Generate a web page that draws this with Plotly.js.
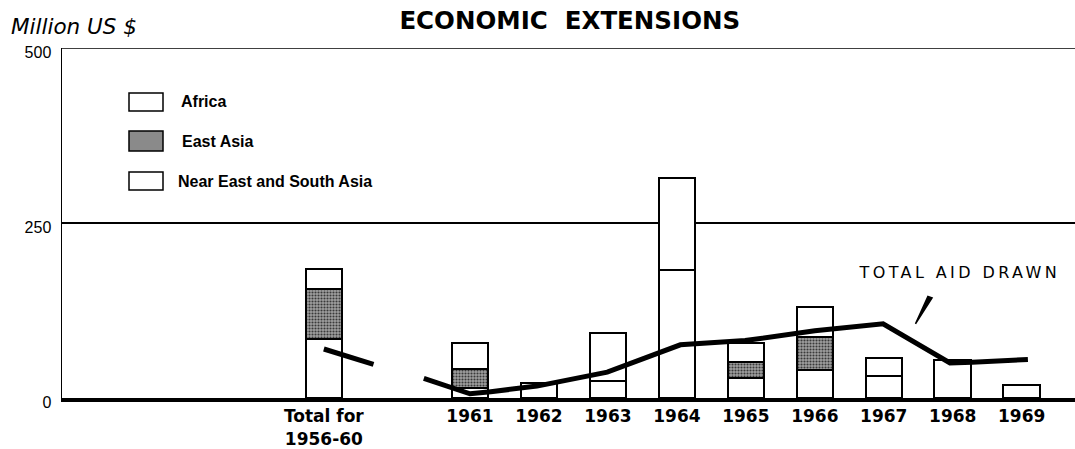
<!DOCTYPE html>
<html>
<head>
<meta charset="utf-8">
<script src="https://cdn.plot.ly/plotly-3.0.1.min.js"></script>
<style>
html,body{margin:0;padding:0;background:#fff;}
#chart{width:1075px;height:449px;}
.annotation[data-index="0"] text{letter-spacing:3.4px;}
</style>
</head>
<body>
<div id="chart"></div>
<script>
// ---- data (million US $) ----
const categories = ["Total for<br>1956-60","1961","1962","1963","1964","1965","1966","1967","1968","1969"];
const barX       = [1958.88, 1961, 1962, 1963, 1964, 1965, 1966, 1967, 1968, 1969];
const nearEastSouthAsia = [84, 14, null, 25, 183, 29, 40, 31, null, null];
const eastAsia          = [72, 27, null, null, null, 23, 47, null, null, null];
const africa            = [28, 37, 22, 68, 131, 26, 43, 26, 55, 18];
// total aid drawn (two drawn pieces, gap between them)
const aidX = [1958.88, 1959.60, null, 1960.33, 1961.0, 1961.3, 1961.97, 1962.99, 1963.61, 1963.9, 1964.05, 1964.99, 1966.0, 1966.99, 1967.96, 1968.28, 1969.09];
const aidY = [70, 48, null, 28, 6, 9, 17, 37, 59, 70, 76, 82, 96, 106, 50, 51, 55];
const yTicks = [0, 250, 500];

const barLine = {color:'#000', width:2};
const traces = [
  {type:'bar', name:'Near East and South Asia', x:barX, y:nearEastSouthAsia, width:0.53,
   marker:{color:'#fff', line:barLine}},
  {type:'bar', name:'East Asia', x:barX, y:eastAsia, width:0.53,
   marker:{color:'#8a8a8a', line:barLine, pattern:{shape:'.', fgcolor:'#3a3a3a', bgcolor:'#a0a0a0', size:3, solidity:0.4}}},
  {type:'bar', name:'Africa', x:barX, y:africa, width:0.53,
   marker:{color:'#fff', line:barLine}},
  {type:'scatter', mode:'lines', name:'Total aid drawn', x:aidX, y:aidY, connectgaps:false,
   line:{color:'#000', width:5}}
];

// hand-drawn legend boxes (paper coords)
const plotL = 62, plotR = 1075, plotT = 48, plotB = 398;
function px2paperX(p){return (p-plotL)/(plotR-plotL);}
function px2paperY(p){return (plotB-p)/(plotB-plotT);}
const legendItems = [
  {label:'Africa', top:93, bot:111, fill:'#fff', tx:179},
  {label:'East Asia', top:131, bot:151, fill:'#8a8a8a', tx:180},
  {label:'Near East and South Asia', top:172, bot:190, fill:'#fff', tx:176}
];
const shapes = legendItems.map(it => ({
  type:'rect', xref:'paper', yref:'paper',
  x0:px2paperX(129), x1:px2paperX(163), y0:px2paperY(it.bot), y1:px2paperY(it.top),
  line:{color:'#000', width:1.5}, fillcolor:it.fill
}));
// top frame line at 500
shapes.push({type:'line', xref:'paper', yref:'y', x0:0, x1:1, y0:500, y1:500,
  line:{color:'#000', width:1.5}});
// pointer from label to line
shapes.push({type:'path', xref:'x', yref:'y',
  path:'M 1967.64 145 L 1967.70 143 L 1967.46 106 Z',
  fillcolor:'#000', line:{color:'#000', width:1.5}});

const annotations = [
  {text:'TOTAL AID DRAWN', x:1968.1, y:179, xref:'x', yref:'y', showarrow:false,
   font:{family:'DejaVu Sans', size:16, color:'#000'}},
  {text:'<i>Million US $</i>', xref:'paper', yref:'paper', x:px2paperX(9), y:px2paperY(27),
   xanchor:'left', yanchor:'middle', showarrow:false,
   font:{family:'DejaVu Sans', size:21.5, weight:500, color:'#000'}}
].concat(legendItems.map(it => ({
  text:'<b>'+it.label+'</b>', xref:'paper', yref:'paper', x:px2paperX(it.tx), y:px2paperY((it.top+it.bot)/2),
  xanchor:'left', yanchor:'middle', showarrow:false,
  font:{family:'Liberation Sans', size:16, color:'#000'}
})));

const layout = {
  width:1075, height:449,
  margin:{l:plotL, r:1075-plotR, t:plotT, b:449-plotB, pad:0},
  paper_bgcolor:'#fff', plot_bgcolor:'#fff',
  barmode:'stack', showlegend:false,
  title:{text:'<b>ECONOMIC  EXTENSIONS</b>', x:0.53, xanchor:'center', y:0.955, yanchor:'middle',
         font:{family:'DejaVu Sans', size:24.5, color:'#000'}},
  xaxis:{range:[1955.083, 1969.773], tickmode:'array', tickvals:barX, ticktext:categories,
         showgrid:false, zeroline:false, showline:true, linecolor:'#000', linewidth:4,
         ticks:'', tickfont:{family:'DejaVu Sans', size:17, weight:'bold', color:'#000'}, fixedrange:true,
         tickangle:0},
  yaxis:{range:[0, 500], tickmode:'array', tickvals:yTicks, ticktext:yTicks.map(String),
         showgrid:true, gridcolor:'#000', gridwidth:1.2, zeroline:false,
         showline:true, linecolor:'#000', linewidth:1.5, ticks:'', ticklabelstandoff:6,
         ticklabelshift:4,
         tickfont:{family:'Liberation Sans', size:16, color:'#000'}, fixedrange:true},
  shapes:shapes,
  annotations:annotations
};

Plotly.newPlot('chart', traces, layout, {displayModeBar:false, staticPlot:true});
</script>
</body>
</html>
